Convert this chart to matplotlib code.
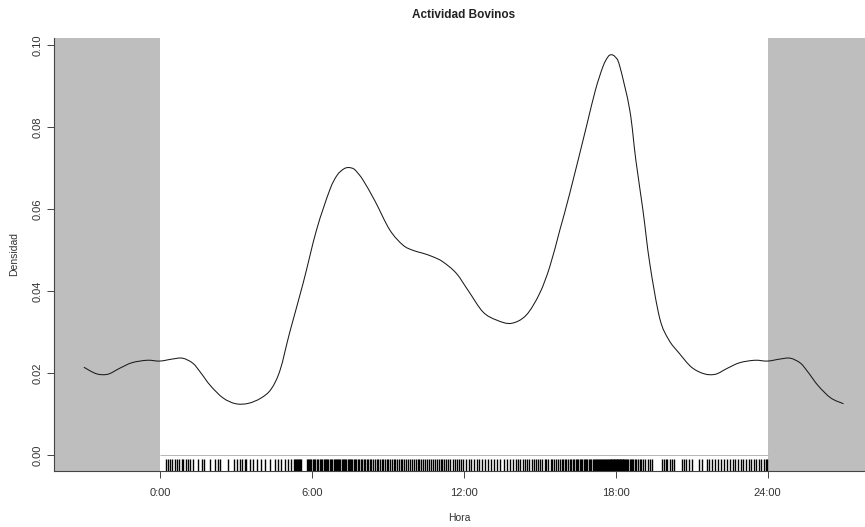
import numpy as np
import matplotlib
matplotlib.use("Agg")
import matplotlib.pyplot as plt
from matplotlib.path import Path
from matplotlib.patches import PathPatch

plt.rcParams['font.family'] = ['Liberation Sans', 'DejaVu Sans']

title = "Actividad Bovinos"
xlabel = "Hora"
ylabel = "Densidad"

# Circular density (hour of day, density)
hours = [0.0, 0.5, 0.9, 1.3, 1.6, 2.0, 2.5, 3.0, 3.5, 4.0, 4.4, 4.75, 5.13, 5.66,
         6.19, 6.71, 7.0, 7.25, 7.44, 7.65, 7.8, 8.03, 8.5, 9.08, 9.6, 10.0, 10.39,
         10.8, 11.18, 11.71, 12.2, 12.76, 13.3, 13.88, 14.47, 15.0, 15.4, 15.8,
         16.19, 16.84, 17.2, 17.5, 17.7, 17.83, 17.98, 18.16, 18.56, 18.8, 19.08,
         19.35, 19.74, 20.1, 20.5, 21.0, 21.5, 21.95, 22.4, 22.9, 23.5, 24.0]
density = [0.0230, 0.0235, 0.0237, 0.0225, 0.0203, 0.0170, 0.0140, 0.0126, 0.0127,
           0.0140, 0.0162, 0.0208, 0.0300, 0.0420, 0.0550, 0.0647, 0.0683, 0.0698,
           0.0702, 0.0699, 0.0690, 0.0671, 0.0620, 0.0550, 0.0513, 0.0500, 0.0493,
           0.0484, 0.0472, 0.0444, 0.0400, 0.0350, 0.0330, 0.0322, 0.0342, 0.0395,
           0.0460, 0.0550, 0.0639, 0.0800, 0.0890, 0.0948, 0.0972, 0.0977, 0.0972,
           0.0950, 0.0842, 0.0720, 0.0598, 0.0468, 0.0335, 0.0282, 0.0250, 0.0215,
           0.0199, 0.0198, 0.0212, 0.0226, 0.0232, 0.0230]

# Observation times shown in the rug (hours)
rug_times = [
    0.26, 0.33, 0.39, 0.50, 0.59, 0.66, 0.76, 0.86, 0.92, 1.03, 1.12, 1.18, 1.32,
    1.51, 1.65, 1.74, 1.97, 2.17, 2.30, 2.37, 2.70, 2.92, 3.05, 3.16, 3.26, 3.36,
    3.42, 3.55, 3.68, 3.84, 4.01, 4.15, 4.37, 4.54, 4.67, 4.80, 4.93, 5.07, 5.20,
    5.30, 5.34, 5.38, 5.42, 5.46, 5.50, 5.54, 5.58,
    5.82, 5.86, 5.90, 5.95, 5.99, 6.05, 6.10, 6.14, 6.20, 6.25, 6.31, 6.36, 6.40,
    6.47, 6.52, 6.56, 6.62, 6.66, 6.71, 6.75, 6.80, 6.86, 6.90, 6.95, 7.00, 7.04,
    7.09, 7.13, 7.18, 7.22, 7.27, 7.31, 7.36, 7.42, 7.46, 7.51, 7.55, 7.60, 7.66,
    7.71, 7.76, 7.82, 7.88, 7.93, 7.98,
    8.05, 8.12, 8.18, 8.24, 8.30, 8.36, 8.43, 8.50, 8.56, 8.62, 8.70, 8.76, 8.83,
    8.90, 8.96, 9.03, 9.10, 9.17, 9.24, 9.30, 9.38, 9.45, 9.52, 9.58, 9.66, 9.73,
    9.80, 9.88, 9.95,
    10.03, 10.10, 10.18, 10.25, 10.33, 10.40, 10.48, 10.55, 10.63, 10.70, 10.78,
    10.86, 10.93, 11.01, 11.09, 11.16, 11.24, 11.32, 11.40, 11.48, 11.57, 11.65,
    11.74, 11.82, 11.91, 11.99,
    12.10, 12.20, 12.28, 12.40, 12.52, 12.60, 12.72, 12.85, 12.95, 13.08, 13.20,
    13.33, 13.45, 13.58, 13.70, 13.82, 13.95,
    14.05, 14.15, 14.24, 14.33, 14.43, 14.52, 14.60, 14.70, 14.78, 14.87, 14.95,
    15.03, 15.11, 15.20, 15.27, 15.35, 15.43, 15.50, 15.58, 15.65, 15.73, 15.80,
    15.87, 15.94,
    16.00, 16.06, 16.12, 16.18, 16.24, 16.30, 16.36, 16.42, 16.48, 16.53, 16.58,
    16.64, 16.69, 16.74, 16.79, 16.84, 16.89, 16.94, 16.99, 17.04, 17.09, 17.13,
    17.18, 17.22, 17.27, 17.31, 17.36, 17.40, 17.44, 17.48, 17.52, 17.56, 17.60,
    17.64, 17.68,
    17.71, 17.74, 17.77, 17.80, 17.83, 17.86, 17.89, 17.92, 17.95, 17.98, 18.01,
    18.04, 18.07, 18.10, 18.13, 18.16, 18.19, 18.22, 18.25, 18.28, 18.31, 18.34,
    18.38, 18.42, 18.46, 18.50, 18.55, 18.60, 18.65, 18.70, 18.76, 18.82, 18.88,
    18.95,
    19.02, 19.10, 19.18, 19.27, 19.36, 19.45, 19.82, 19.90, 19.98, 20.05, 20.14,
    20.22, 20.30, 20.62, 20.70, 20.80, 20.88, 21.00, 21.30, 21.40, 21.60, 21.68,
    21.80, 21.92, 22.05, 22.15, 22.28, 22.40, 22.50, 22.62, 22.72, 22.85, 22.95,
    23.05, 23.15, 23.25, 23.35, 23.45, 23.55, 23.65, 23.75, 23.85, 23.93, 23.98]

xtick_vals = [0, 6, 12, 18, 24]
xtick_labels = ["0:00", "6:00", "12:00", "18:00", "24:00"]
ytick_vals = [0.00, 0.02, 0.04, 0.06, 0.08, 0.10]
ytick_labels = ["0.00", "0.02", "0.04", "0.06", "0.08", "0.10"]

h = np.array(hours)
d = np.array(density)
# circular density: the curve is shown 3 hours beyond each end
body = h[1:]
x_ext = np.concatenate([h[h >= 21.0] - 24, body, body[body <= 3.0] + 24])
y_ext = np.concatenate([d[h >= 21.0], d[1:], d[1:][body <= 3.0]])

fig = plt.figure(figsize=(8.65, 5.27), dpi=100)
ax = fig.add_axes([0.0624, 0.1063, 0.9376, 0.8217])

xmin, xmax = -4.18, 27.85
ymin, ymax = -0.0038, 0.1018
ax.set_xlim(xmin, xmax)
ax.set_ylim(ymin, ymax)

ax.axvspan(xmin, 0, color="#bebebe", lw=0, zorder=0)
ax.axvspan(24, xmax, color="#bebebe", lw=0, zorder=0)

# smooth rendering through the read points (Catmull-Rom as Bezier path)
pts = np.column_stack([x_ext, y_ext])
verts = [pts[0]]
codes = [Path.MOVETO]
n = len(pts)
for i in range(n - 1):
    p0 = pts[i - 1] if i > 0 else pts[i]
    p1 = pts[i]
    p2 = pts[i + 1]
    p3 = pts[i + 2] if i + 2 < n else pts[i + 1]
    c1 = p1 + (p2 - p0) / 6.0
    c2 = p2 - (p3 - p1) / 6.0
    verts += [c1, c2, p2]
    codes += [Path.CURVE4, Path.CURVE4, Path.CURVE4]
ax.add_patch(PathPatch(Path(verts, codes), fill=False, edgecolor="#1a1a1a",
                       lw=0.75, zorder=3))

ax.hlines(0, 0, 24, color="#aaaaaa", lw=0.6, zorder=2)
ax.vlines(rug_times, ymin, -0.0009, color="black", lw=1.0, zorder=2)

for s in ["top", "right"]:
    ax.spines[s].set_visible(False)
for s in ["left", "bottom"]:
    ax.spines[s].set_color("#444444")
    ax.spines[s].set_linewidth(0.8)

ax.set_xticks(xtick_vals)
ax.set_xticklabels(xtick_labels)
ax.set_yticks(ytick_vals)
ax.set_yticklabels(ytick_labels, rotation=90, va="center")
ax.tick_params(axis="both", labelsize=8, colors="#444444", labelcolor="#333333",
               length=5, width=0.7)
ax.tick_params(axis="x", pad=7)
ax.tick_params(axis="y", pad=3)

ax.set_xlabel(xlabel, fontsize=7.5, color="#333333", labelpad=11)
ax.set_ylabel(ylabel, fontsize=7.5, color="#333333", labelpad=10)
fig.text(0.536, 0.972, title, ha="center", va="center", fontsize=8.5,
         fontweight="bold", color="#222222")

fig.savefig("out.png", dpi=100)
